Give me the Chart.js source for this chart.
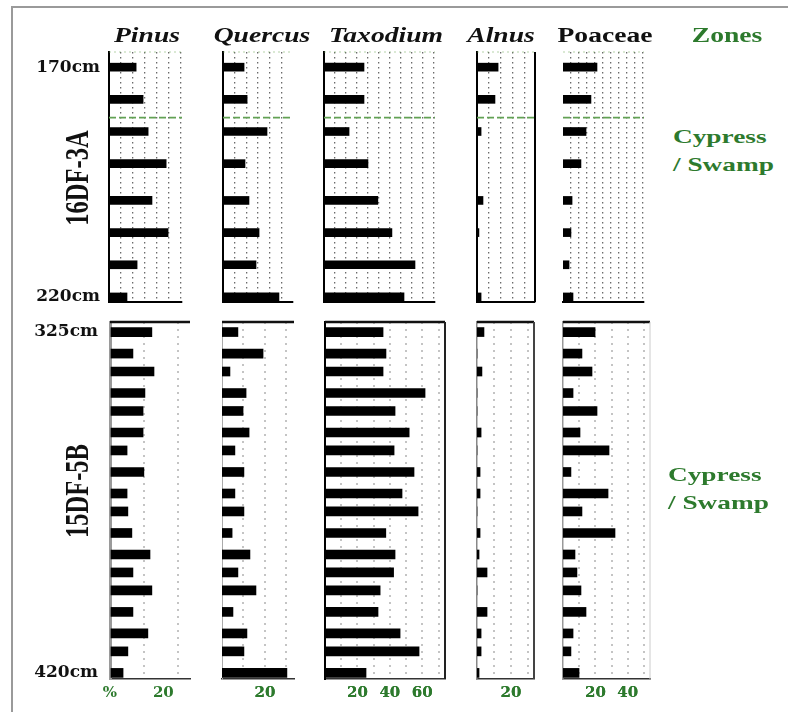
<!DOCTYPE html>
<html>
<head>
<meta charset="utf-8">
<script src="https://cdn.jsdelivr.net/npm/chart.js@4.4.0/dist/chart.umd.min.js"></script>
<style>
html, body { margin: 0; padding: 0; background: #fff; }
body { width: 788px; height: 712px; position: relative; overflow: hidden; }
#frame { position: absolute; left: 11px; top: 6px; width: 800px; height: 720px;
  border-left: 2px solid #9a9a9a; border-top: 2px solid #9a9a9a; }
canvas { position: absolute; }
.txt { position: absolute; transform-origin: 0 0; white-space: nowrap; line-height: 1;
  font-family: "Liberation Serif", "Times New Roman", serif; font-weight: bold; color: #111; }
</style>
</head>
<body>
<div id="frame"></div>
<script>
// sample depths (cm)
var depthsTop = [170, 177, 184, 191, 199, 206, 213, 220];
var depthsBottom = [325, 331, 336, 342, 347, 353, 358, 364, 370, 375, 381, 387, 392, 397, 403, 409, 414, 420];

// 16DF-3A percentages
var pinusTop = [11.3, 14.2, 16.3, 23.8, 17.9, 24.6, 11.7, 7.5];
var quercusTop = [9.0, 10.3, 18.8, 9.4, 11.1, 15.4, 14.1, 23.9];
var taxodiumTop = [18.2, 18.2, 11.4, 20.0, 24.5, 30.9, 41.4, 36.4];
var alnusTop = [8.8, 7.5, 1.7, 0, 2.5, 0.8, 0, 1.7];
var poaceaeTop = [21.4, 17.6, 14.5, 11.3, 5.7, 5.0, 3.8, 6.3];

// 15DF-5B percentages
var pinusBottom = [15.7, 8.6, 16.5, 13.1, 12.4, 12.4, 6.4, 12.7, 6.4, 6.7, 8.2, 15.0, 8.6, 15.7, 8.6, 14.2, 6.7, 4.9];
var quercusBottom = [7.4, 19.1, 3.7, 11.2, 9.8, 12.6, 6.0, 10.2, 6.0, 10.2, 4.7, 13.0, 7.4, 15.8, 5.1, 11.6, 10.2, 30.2];
var taxodiumBottom = [35.8, 37.6, 35.8, 61.7, 43.2, 51.9, 42.6, 54.9, 47.5, 57.4, 37.5, 43.2, 42.3, 34.0, 32.7, 46.3, 58.0, 25.3];
var alnusBottom = [4.1, 0, 2.9, 0, 0, 2.4, 0, 1.8, 1.8, 0, 1.8, 1.2, 5.9, 0, 5.9, 2.4, 2.4, 1.2];
var poaceaeBottom = [19.8, 11.7, 17.9, 6.2, 21.0, 10.5, 28.4, 4.9, 27.8, 11.7, 32.1, 7.4, 8.6, 11.1, 14.2, 6.2, 4.9, 9.9];

// tick labels
var depthTicksTop = [170, 220];
var depthTicksBottom = [325, 420];
var pinusTicks = [[0, '%'], [20, '20']];
var quercusTicks = [[20, '20']];
var taxodiumTicks = [[20, '20'], [40, '40'], [60, '60']];
var alnusTicks = [[20, '20']];
var poaceaeTicks = [[20, '20'], [40, '40']];

// zone boundary in 16DF-3A
var zoneDepthsTop = [181];

var taxa = ['Pinus', 'Quercus', 'Taxodium', 'Alnus', 'Poaceae'];
var cores = ['16DF-3A', '15DF-5B'];
var zoneName = ['Cypress', '/ Swamp'];

var GREEN = '#2d7a2d';

var panelLines = {
	id: 'panelLines',
	afterDatasetsDraw: function(chart, args, opts) {
		var ctx = chart.ctx, a = chart.chartArea, y = chart.scales.y;
		ctx.save();
		(opts.lines || []).forEach(function(l) {
			ctx.beginPath();
			ctx.strokeStyle = l.color;
			ctx.lineWidth = l.width;
			ctx.setLineDash(l.dash || []);
			if (l.side == 'top') {
				ctx.moveTo(a.left, a.top); ctx.lineTo(a.right, a.top);
			} else if (l.side == 'right') {
				ctx.moveTo(a.right, a.top); ctx.lineTo(a.right, a.bottom);
			} else if (l.side == 'zone') {
				var py = y.getPixelForValue(l.depth);
				ctx.moveTo(a.left, py); ctx.lineTo(a.right, py);
			}
			ctx.stroke();
		});
		ctx.restore();
	}
};

function makePanel(p) {
	var top = p.section == 'top';
	var yw = p.depthTicks ? 85 : 0;     // room for the depth labels
	var xh = 24;                          // room for the % labels
	var pl = p.depthTicks ? 7 : 24, pr = 24, pt = 24, pb = 4;
	var L = p.area[0], T = p.area[1], R = p.area[2], B = p.area[3];
	var c = document.createElement('canvas');
	c.width = R - L + pl + yw + pr;
	c.height = B - T + pt + pb + xh;
	c.style.left = (L - pl - yw) + 'px';
	c.style.top = (T - pt) + 'px';
	c.style.filter = top ? 'blur(0.3px)' : 'blur(0.55px)';
	document.body.appendChild(c);

	var labels = p.ticks || [];
	var tickVals = p.grid.concat(labels.map(function(t) { return t[0]; }));
	var lines = [];
	if (top) {
		lines.push({side: 'top', color: 'rgba(120,175,100,0.55)', width: 1, dash: [2, 3]});
		zoneDepthsTop.forEach(function(d) {
			lines.push({side: 'zone', depth: d, color: '#62a154', width: 1.8, dash: [7, 3]});
		});
	} else {
		lines.push({side: 'top', color: '#111', width: 2.5});
	}
	if (p.right) lines.push({side: 'right', color: p.right[0], width: p.right[1]});

	new Chart(c.getContext('2d'), {
		type: 'bar',
		data: {
			datasets: [{
				data: p.depths.map(function(d, i) { return {x: p.values[i], y: d}; }),
				backgroundColor: '#000',
				borderWidth: 0,
				barThickness: top ? 8 : 9
			}]
		},
		plugins: [panelLines],
		options: {
			indexAxis: 'y',
			responsive: false,
			animation: false,
			devicePixelRatio: 1,
			layout: {padding: {left: pl, right: pr, top: pt, bottom: pb}},
			plugins: {
				legend: {display: false},
				tooltip: {enabled: false},
				panelLines: {lines: lines}
			},
			scales: {
				x: {
					type: 'linear', min: 0, max: p.max,
					afterFit: function(s) { s.height = xh; },
					afterBuildTicks: function(s) {
						s.ticks = tickVals.map(function(v) { return {value: v}; });
					},
					grid: {
						drawTicks: false,
						lineWidth: top ? 1.3 : 2,
						color: function(ctx) {
							if (ctx.tick && p.grid.indexOf(ctx.tick.value) >= 0) return top ? '#6a6a6a' : '#c4c4c4';
							return 'rgba(0,0,0,0)';
						}
					},
					border: {
						display: true,
						color: top ? '#000' : '#333',
						width: top ? 2 : 1.5,
						dash: top ? [1.5, 3.5] : [2, 5]
					},
					ticks: {
						display: labels.length > 0,
						autoSkip: false,
						maxRotation: 0,
						padding: 5,
						color: GREEN,
						font: {family: 'DejaVu Serif', weight: 'bold', size: 15},
						callback: function(v) {
							for (var i = 0; i < labels.length; i++) if (labels[i][0] == v) return labels[i][1];
							return '';
						}
					}
				},
				y: {
					type: 'linear', reverse: true, offset: false,
					min: p.yRange[0], max: p.yRange[1],
					afterFit: function(s) { s.width = yw; },
					afterBuildTicks: function(s) {
						if (p.depthTicks) s.ticks = p.depthTicks.map(function(v) { return {value: v}; });
					},
					grid: {display: false, drawTicks: false, offset: false},
					border: {display: !!p.left, color: p.left ? p.left[0] : '#000', width: p.left ? p.left[1] : 0},
					ticks: {
						display: !!p.depthTicks,
						padding: top ? 9 : 12,
						color: '#111',
						font: {family: 'DejaVu Serif', weight: 'bold', size: 17},
						callback: function(v) { return v + 'cm'; }
					}
				}
			}
		}
	});
}

var yTop = [166.7, 221.1], yBottom = [322.2, 421.7];
var panels = [
	{section: 'top', area: [109, 52, 182, 302], depths: depthsTop, values: pinusTop, yRange: yTop, max: 30.4,
		grid: [5, 10, 15, 20, 25, 30], left: ['#000', 2], depthTicks: depthTicksTop},
	{section: 'top', area: [223, 52, 293, 302], depths: depthsTop, values: quercusTop, yRange: yTop, max: 29.9,
		grid: [5, 10, 15, 20, 25], left: ['#000', 2]},
	{section: 'top', area: [324, 52, 435, 302], depths: depthsTop, values: taxodiumTop, yRange: yTop, max: 50.5,
		grid: [5, 10, 15, 20, 25, 30, 35, 40, 45, 50], left: ['#000', 2]},
	{section: 'top', area: [477, 52, 535, 302], depths: depthsTop, values: alnusTop, yRange: yTop, max: 24.2,
		grid: [5, 10, 15, 20], left: ['#000', 2], right: ['#000', 2]},
	{section: 'top', area: [563, 52, 644, 302], depths: depthsTop, values: poaceaeTop, yRange: yTop, max: 51,
		grid: [5, 10, 15, 20, 25, 30, 35, 40, 45, 50]},

	{section: 'bottom', area: [110, 322, 190, 679], depths: depthsBottom, values: pinusBottom, yRange: yBottom, max: 30,
		grid: [12.75, 25.5], left: ['#9a9a9a', 3], depthTicks: depthTicksBottom, ticks: pinusTicks},
	{section: 'bottom', area: [222, 322, 294, 679], depths: depthsBottom, values: quercusBottom, yRange: yBottom, max: 33.5,
		grid: [10, 20, 30], left: ['#aaa', 1], ticks: quercusTicks},
	{section: 'bottom', area: [325, 322, 445, 679], depths: depthsBottom, values: taxodiumBottom, yRange: yBottom, max: 74,
		grid: [10, 20, 30, 40, 50, 60, 70], left: ['#000', 2], right: ['#222', 2], ticks: taxodiumTicks},
	{section: 'bottom', area: [477, 322, 534, 679], depths: depthsBottom, values: alnusBottom, yRange: yBottom, max: 33.5,
		grid: [10, 20, 30], left: ['#888', 1.5], right: ['#444', 2], ticks: alnusTicks},
	{section: 'bottom', area: [563, 322, 650, 679], depths: depthsBottom, values: poaceaeBottom, yRange: yBottom, max: 53.7,
		grid: [10, 20, 30, 40, 50], left: ['#999', 1.5], right: ['#ccc', 1], ticks: poaceaeTicks}
];
panels.forEach(makePanel);

function addText(text, x, y, size, tf, extra) {
	var d = document.createElement('div');
	d.className = 'txt';
	d.textContent = text;
	d.style.left = x + 'px';
	d.style.top = y + 'px';
	d.style.fontSize = size + 'px';
	d.style.transform = tf;
	if (extra) for (var k in extra) d.style[k] = extra[k];
	document.body.appendChild(d);
}

var titleX = [147, 262, 386, 501, 605];
taxa.forEach(function(t, i) {
	addText(t, titleX[i], 35, 20, 'scaleX(1.38) translate(-50%,-50%)', {fontStyle: i < 4 ? 'italic' : 'normal'});
});
addText('Zones', 727, 35, 20, 'scaleX(1.38) translate(-50%,-50%)', {color: GREEN});

addText(cores[0], 77, 177.5, 24.5, 'scaleX(1.38) rotate(-90deg) translate(-50%,-50%)');
addText(cores[1], 77, 490.5, 24.5, 'scaleX(1.38) rotate(-90deg) translate(-50%,-50%)');

addText(zoneName[0], 673, 137, 19.5, 'scaleX(1.4) translate(0,-50%)', {color: GREEN});
addText(zoneName[1], 673, 165, 19.5, 'scaleX(1.4) translate(0,-50%)', {color: GREEN});
addText(zoneName[0], 668, 475, 19.5, 'scaleX(1.4) translate(0,-50%)', {color: GREEN});
addText(zoneName[1], 668, 503, 19.5, 'scaleX(1.4) translate(0,-50%)', {color: GREEN});
</script>
</body>
</html>
